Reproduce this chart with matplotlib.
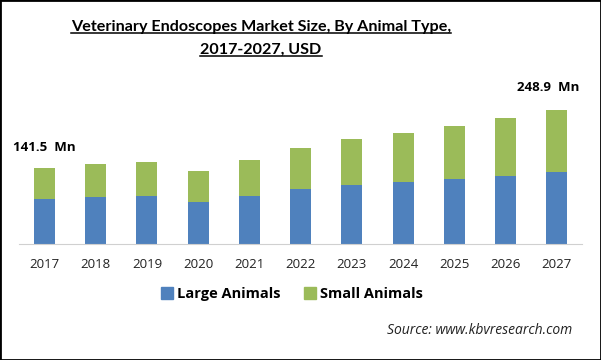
import numpy as np
import matplotlib.pyplot as plt
from matplotlib.patches import Rectangle, Patch

# Data (USD Mn)
years = ['2017', '2018', '2019', '2020', '2021', '2022', '2023', '2024', '2025', '2026', '2027']
large_animals = [84.4, 87.5, 89.4, 78.8, 89.4, 103.0, 109.9, 115.4, 121.0, 126.6, 134.6]
totals = [141.5, 149.0, 152.7, 136.0, 156.4, 178.8, 195.5, 206.7, 219.7, 234.6, 248.9]
small_animals = [t - l for t, l in zip(totals, large_animals)]

blue = '#4F81BD'
green = '#9BBB59'

fig = plt.figure(figsize=(6.01, 3.6), dpi=100)
ax = fig.add_axes([18.9 / 601, 1 - 244 / 360, 563.4 / 601, 144 / 360])

x = np.arange(len(years))
ax.bar(x, large_animals, width=0.41, color=blue, label='Large Animals')
ax.bar(x, small_animals, width=0.41, bottom=large_animals, color=green, label='Small Animals')

ax.set_xlim(-0.5, len(years) - 0.5)
ax.set_ylim(0, 268.2)
ax.set_xticks(x)
ax.set_xticklabels(years, fontsize=9.5, family='Open Sans', color='#222222')
ax.tick_params(axis='x', length=0, pad=10)
ax.set_yticks([])
for side in ['top', 'right', 'left']:
    ax.spines[side].set_visible(False)
ax.spines['bottom'].set_color('#d0d0d0')

# value labels on first and last bar
ax.annotate('141.5  Mn', (x[0], totals[0]), xytext=(0, 15), textcoords='offset points',
            ha='center', va='center', fontsize=9.5, fontweight='bold', family='Open Sans')
ax.annotate('248.9  Mn', (x[-1], totals[-1]), xytext=(-6, 16.5), textcoords='offset points',
            ha='center', va='center', fontsize=9.5, fontweight='bold', family='Open Sans')

# title, underlined
tx = 261 / 601
t1 = fig.text(tx, 1 - 27 / 360, 'Veterinary Endoscopes Market Size, By Animal Type,',
              ha='center', va='center', fontsize=11.6, fontweight='bold', family='Lato')
t2 = fig.text(tx, 1 - 50 / 360, '2017-2027, USD',
              ha='center', va='center', fontsize=11.6, fontweight='bold', family='Lato')
fig.canvas.draw()
r = fig.canvas.get_renderer()
for t in (t1, t2):
    bb = t.get_window_extent(r).transformed(fig.transFigure.inverted())
    fig.add_artist(plt.Line2D([bb.x0, bb.x1], [bb.y0 + 0.004, bb.y0 + 0.004],
                              transform=fig.transFigure, color='black', lw=1.1))

handles = [Patch(color=blue, label='Large Animals'), Patch(color=green, label='Small Animals')]
fig.legend(handles=handles, loc='center', bbox_to_anchor=(292 / 601, 1 - 294 / 360), ncol=2,
           frameon=False, prop={'family': 'Open Sans', 'weight': 'bold', 'size': 10.5},
           handlelength=0.8, handleheight=0.8, handletextpad=0.3, columnspacing=1.6)

fig.text(572 / 601, 1 - 331 / 360, 'Source: www.kbvresearch.com', ha='right', va='center',
         fontsize=10, style='italic', family='Open Sans', color='#222222')

fig.add_artist(Rectangle((0, 0), 1, 1, transform=fig.transFigure, fill=False,
                         edgecolor='black', lw=2))

fig.savefig('out.png', dpi=100)
